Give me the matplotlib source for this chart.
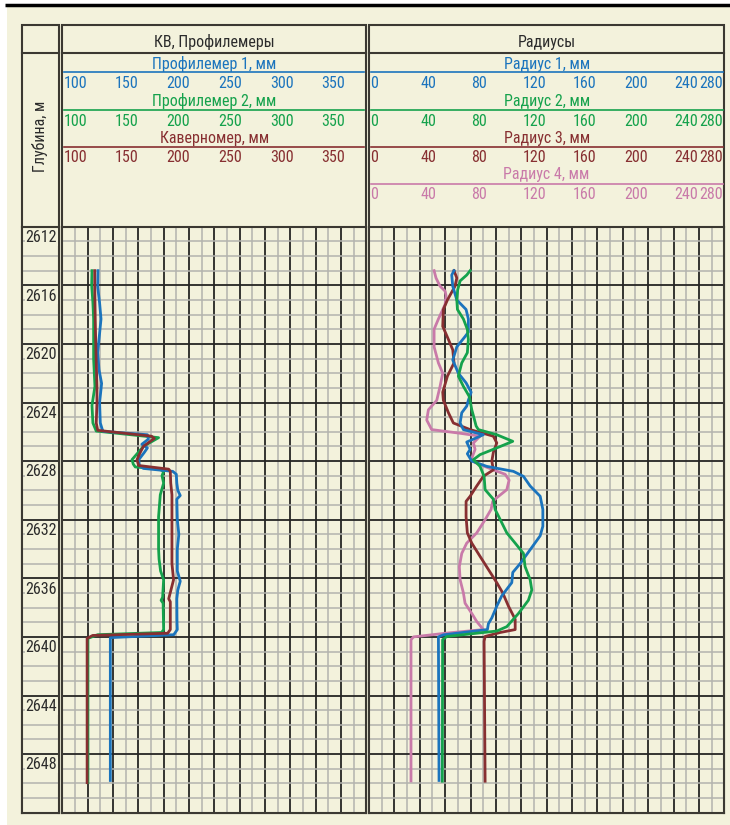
import matplotlib
matplotlib.use("Agg")
import matplotlib.pyplot as plt
from matplotlib import font_manager
from matplotlib.patches import Rectangle

# --- fonts: look for a narrow sans like the original, else plain Liberation Sans ---
narrow = None
for key in ("liberationsansnarrow-regular", "robotocondensed-regular", "opensans_condensed-regular",
            "opensanscondensed-regular", "dejavusanscondensed.ttf"):
    for f in font_manager.fontManager.ttflist:
        if key in f.fname.lower().replace(" ", ""):
            narrow = f.fname
            break
    if narrow:
        break

if narrow and "liberation" in narrow.lower():
    FP = dict(fontproperties=font_manager.FontProperties(fname=narrow, size=11.4))
elif narrow and "roboto" in narrow.lower():
    FP = dict(fontproperties=font_manager.FontProperties(fname=narrow, size=11.5))
else:
    plt.rcParams["font.family"] = ["Liberation Sans", "DejaVu Sans"]
    FP = dict(fontsize=10.2)

# --- data: track 1 (mm), depths in m ---
prof1_depth = [2615.0, 2616.1, 2617.2, 2618.3, 2619.5, 2620.6, 2621.75, 2622.7, 2624.0, 2625.4,
               2625.85, 2625.97, 2626.2, 2626.5, 2626.85, 2627.1, 2627.4, 2627.9, 2628.3, 2628.5,
               2628.7, 2628.9, 2629.5, 2630.0, 2630.35, 2630.6, 2632.0, 2633.0, 2634.0, 2635.5,
               2636.2, 2636.8, 2637.4, 2639.0, 2639.5, 2639.85, 2640.05, 2649.8]
prof1_mm = [135.2, 134.9, 136.8, 138.2, 136.5, 134.9, 136.2, 138.8, 136.8, 137.5,
            139.5, 140.5, 184.0, 185.0, 178.5, 184.0, 181.0, 175.5, 176.0, 180.0,
            209.0, 212.5, 213.0, 214.0, 216.4, 213.0, 213.5, 215.0, 213.5, 213.5,
            216.4, 214.0, 213.0, 213.2, 213.5, 210.0, 147.4, 147.4]

prof2_depth = [2615.0, 2616.0, 2617.2, 2618.3, 2621.0, 2622.9, 2624.2, 2625.4, 2625.95, 2626.4,
               2627.0, 2627.9, 2628.2, 2628.4, 2628.55, 2628.7, 2629.0, 2629.5, 2630.3, 2631.8,
               2634.0, 2634.7, 2635.5, 2636.1, 2637.3, 2637.5, 2637.7, 2639.5, 2639.7, 2639.85,
               2640.1, 2649.95]
prof2_mm = [129.3, 129.0, 130.2, 130.9, 130.9, 132.2, 129.3, 130.2, 133.5, 195.0,
            180.0, 168.8, 170.0, 172.0, 196.0, 200.0, 198.4, 200.0, 196.7, 195.0,
            195.0, 195.5, 197.0, 200.0, 199.0, 197.5, 199.5, 200.0, 198.0, 135.0,
            125.3, 125.3]

caliper_depth = [2615.0, 2616.0, 2618.3, 2620.6, 2622.9, 2624.0, 2625.4, 2625.9, 2626.3, 2626.45,
                 2627.0, 2627.4, 2627.9, 2628.3, 2628.55, 2628.7, 2629.5, 2630.3, 2633.0, 2635.0,
                 2636.1, 2637.4, 2637.6, 2639.5, 2639.75, 2639.9, 2640.1, 2649.95]
caliper_mm = [132.0, 132.0, 132.5, 133.2, 134.2, 134.2, 133.5, 135.0, 188.0, 190.8,
              180.0, 177.0, 173.7, 175.3, 205.0, 206.6, 207.0, 208.2, 208.2, 208.2,
              209.8, 205.0, 206.6, 206.6, 204.0, 130.0, 124.5, 124.5]

# --- data: track 2 radii (mm) ---
r1_depth = [2615.0, 2615.3, 2616.06, 2617.0, 2617.65, 2618.3, 2619.2, 2619.5, 2620.2, 2621.1,
            2622.0, 2622.66, 2623.3, 2623.85, 2624.25, 2624.7, 2625.4, 2625.85, 2626.2, 2626.5,
            2626.7, 2627.2, 2627.5, 2628.0, 2628.36, 2628.7, 2629.04, 2629.7, 2630.4, 2631.3,
            2632.45, 2633.1, 2634.05, 2635.0, 2635.6, 2636.3, 2637.2, 2637.9, 2638.7, 2639.1,
            2639.5, 2639.86, 2640.0, 2649.8]
r1_mm = [67.0, 65.2, 66.0, 69.2, 76.5, 78.3, 78.3, 75.7, 69.2, 66.0,
         70.4, 76.5, 80.5, 78.3, 77.0, 73.1, 71.8, 74.4, 90.1, 82.3,
         77.0, 79.7, 77.5, 81.0, 92.8, 113.8, 121.7, 127.0, 134.9, 137.0,
         137.0, 134.9, 127.0, 119.1, 113.3, 112.5, 104.6, 100.7, 96.8, 94.1,
         93.3, 58.6, 54.7, 55.2]

r2_depth = [2615.0, 2615.3, 2615.7, 2616.3, 2617.0, 2617.65, 2618.3, 2619.0, 2619.7, 2620.6,
            2621.3, 2622.2, 2622.9, 2623.6, 2624.5, 2624.9, 2625.6, 2625.85, 2626.2, 2626.65,
            2627.1, 2627.56, 2627.9, 2628.36, 2629.04, 2629.95, 2630.6, 2631.3, 2632.2, 2632.9,
            2633.6, 2634.3, 2635.2, 2636.1, 2636.8, 2637.5, 2638.4, 2639.3, 2639.6, 2639.97,
            2640.2, 2649.85]
r2_mm = [79.7, 77.0, 71.8, 69.9, 69.2, 69.7, 74.4, 77.5, 78.3, 77.5,
         73.1, 70.4, 74.4, 79.1, 81.0, 82.3, 84.4, 86.2, 100.7, 113.3,
         100.7, 87.5, 82.3, 87.5, 90.7, 91.5, 98.0, 99.4, 104.6, 108.6,
         115.2, 121.7, 123.0, 127.0, 128.3, 125.6, 117.8, 108.6, 100.7, 61.3,
         58.0, 57.8]

r3_depth = [2615.0, 2615.5, 2616.06, 2617.0, 2617.65, 2618.8, 2619.7, 2620.4, 2621.3, 2622.2,
            2623.3, 2623.85, 2624.7, 2625.4, 2625.85, 2626.3, 2626.76, 2627.4, 2628.0, 2628.6,
            2629.04, 2629.7, 2630.4, 2630.75, 2631.8, 2632.9, 2633.6, 2634.5, 2635.4, 2636.3,
            2637.0, 2637.9, 2638.8, 2639.5, 2639.7, 2639.97, 2640.3, 2649.85]
r3_mm = [67.0, 69.2, 67.8, 61.8, 58.6, 58.1, 62.6, 66.0, 67.0, 61.8,
         58.1, 58.6, 62.6, 66.5, 79.7, 98.0, 100.7, 98.0, 96.8, 98.0,
         90.1, 84.9, 79.7, 76.5, 76.5, 77.5, 81.0, 87.5, 94.1, 100.7,
         105.4, 109.9, 115.2, 115.2, 103.3, 91.5, 90.7, 91.5]

r4_depth = [2615.0, 2615.5, 2616.06, 2616.4, 2616.7, 2617.3, 2618.3, 2619.0, 2620.2, 2621.3,
            2622.0, 2622.9, 2623.85, 2624.5, 2625.2, 2625.85, 2626.1, 2626.3, 2626.76, 2627.2,
            2627.8, 2628.1, 2628.6, 2628.9, 2629.3, 2629.95, 2630.5, 2630.75, 2631.3, 2632.0,
            2632.9, 2633.6, 2634.3, 2635.2, 2636.1, 2637.0, 2637.7, 2638.4, 2638.95, 2639.5,
            2639.74, 2640.0, 2640.2, 2649.83]
r4_mm = [51.3, 52.8, 56.0, 60.0, 60.7, 60.0, 54.7, 51.3, 51.3, 54.7,
         58.1, 56.0, 53.4, 46.8, 45.5, 49.4, 71.8, 87.5, 82.3, 83.6,
         81.0, 83.6, 98.0, 107.3, 110.4, 108.6, 100.7, 97.5, 96.2, 91.5,
         84.9, 77.0, 73.1, 71.2, 71.8, 74.4, 75.7, 81.0, 84.9, 90.1,
         61.3, 35.0, 33.1, 33.1]

track1_ticks = ["100", "150", "200", "250", "300", "350"]
track2_ticks = [0, 40, 80, 120, 160, 200, 240, 280]
depth_labels = list(range(2612, 2652, 4))

# --- colours ---
BG = "#F3F2DC"
FRAME = "#3b3932"
MAJ = "#262624"
MIN = "#b3b3ae"
BLUE = "#1b74bd"
GREEN = "#15a24c"
RED = "#872f31"
PINK = "#c97aa9"
TXT = "#2b2b2b"

# --- layout in pixels ---
W, H = 730, 825
DCOL = (22, 59.3)
TR1 = (62.3, 366.3)
TR2 = (369, 724.3)
TOP, TITLE_Y, GTOP, GBOT = 25, 53.3, 226.7, 812.7

fig = plt.figure(figsize=(W / 100, H / 100), dpi=100, facecolor="white")
bg = fig.add_axes([0, 0, 1, 1])
bg.set_xlim(0, W)
bg.set_ylim(H, 0)
bg.axis("off")
bg.add_patch(Rectangle((6.5, 7), W, H, fc=BG, ec="none"))
bg.plot([4.7, W], [5, 5], color="black", lw=2.5, solid_capstyle="butt")

for x0, x1 in (DCOL, TR1, TR2):
    bg.add_patch(Rectangle((x0, TOP), x1 - x0, GBOT - TOP, fill=False, ec=FRAME, lw=1.5))
    bg.plot([x0, x1], [TITLE_Y, TITLE_Y], color=FRAME, lw=1.5)

bg.text((TR1[0] + TR1[1]) / 2, 46.7, "КВ, Профилемеры", ha="center", va="baseline",
        color=TXT, **FP)
bg.text((TR2[0] + TR2[1]) / 2, 46.7, "Радиусы", ha="center", va="baseline", color=TXT, **FP)
bg.text(39.5, 136, "Глубина, м", rotation=90, ha="center", va="center", color=TXT, **FP)

name_base = [69.3, 106.0, 142.7, 179.3]
line_y = [72, 110, 147, 183.7]
tick_base = [88.3, 126.0, 162.3, 199.0]

track1_rows = [("Профилемер 1, мм", BLUE), ("Профилемер 2, мм", GREEN), ("Каверномер, мм", RED)]
for i, (name, c) in enumerate(track1_rows):
    bg.text((TR1[0] + TR1[1]) / 2, name_base[i], name, ha="center", va="baseline", color=c, **FP)
    bg.plot([64, 364], [line_y[i]] * 2, color=c, lw=1.2)
    for j, lab in enumerate(track1_ticks):
        bg.text(63.5 + j * 51.6, tick_base[i], lab, ha="left", va="baseline", color=c, **FP)

track2_rows = [("Радиус 1, мм", BLUE), ("Радиус 2, мм", GREEN), ("Радиус 3, мм", RED),
               ("Радиус 4, мм", PINK)]
scale2 = (TR2[1] - TR2[0]) / 280
for i, (name, c) in enumerate(track2_rows):
    bg.text((TR2[0] + TR2[1]) / 2, name_base[i], name, ha="center", va="baseline", color=c, **FP)
    bg.plot([371, 722.5], [line_y[i]] * 2, color=c, lw=1.2)
    for v in track2_ticks:
        if v == track2_ticks[-1]:
            bg.text(TR2[1] - 1.5, tick_base[i], str(v), ha="right", va="baseline", color=c, **FP)
        else:
            bg.text(TR2[0] + 1 + v * scale2, tick_base[i], str(v), ha="left", va="baseline",
                    color=c, **FP)


def grid_axes(x0, x1):
    ax = fig.add_axes([x0 / W, 1 - GBOT / H, (x1 - x0) / W, (GBOT - GTOP) / H])
    ax.set_facecolor(BG)
    ax.set_ylim(2652, 2612)
    ax.set_yticks(range(2612, 2653, 4))
    ax.set_yticks(range(2612, 2653, 1), minor=True)
    ax.tick_params(which="both", length=0, labelbottom=False, labelleft=False)
    for s in ax.spines.values():
        s.set_color(FRAME)
        s.set_linewidth(1.5)
    ax.set_axisbelow(True)
    return ax


# depth column
axd = grid_axes(*DCOL)
axd.set_xlim(0, 1)
axd.set_xticks([])
axd.grid(which="minor", axis="y", color=MIN, lw=1.1)
axd.grid(which="major", axis="y", color=MAJ, lw=1.3)
for d in depth_labels:
    axd.text(0.1, d + 1.04, str(d), ha="left", va="baseline", color=TXT,
             bbox=dict(fc=BG, ec="none", pad=0.6), **FP)

# track 1
ax1 = grid_axes(*TR1)
ax1.set_xlim(100, 400)
ax1.set_xticks(range(100, 401, 25))
ax1.set_xticks([100 + 12.5 * k for k in range(25)], minor=True)
ax1.grid(which="minor", color=MIN, lw=1.1)
ax1.grid(which="major", color=MAJ, lw=1.3)
ax1.plot(prof2_mm, prof2_depth, color=GREEN, lw=2, solid_joinstyle="round")
ax1.plot(prof1_mm, prof1_depth, color=BLUE, lw=2, solid_joinstyle="round")
ax1.plot(caliper_mm, caliper_depth, color=RED, lw=2, solid_joinstyle="round")

# track 2
ax2 = grid_axes(*TR2)
ax2.set_xlim(0, 280)
ax2.set_xticks(range(0, 281, 20))
ax2.set_xticks(range(0, 281, 10), minor=True)
ax2.grid(which="minor", color=MIN, lw=1.1)
ax2.grid(which="major", color=MAJ, lw=1.3)
ax2.plot(r4_mm, r4_depth, color=PINK, lw=2, solid_joinstyle="round")
ax2.plot(r3_mm, r3_depth, color=RED, lw=2, solid_joinstyle="round")
ax2.plot(r1_mm, r1_depth, color=BLUE, lw=2, solid_joinstyle="round")
ax2.plot(r2_mm, r2_depth, color=GREEN, lw=2, solid_joinstyle="round")

fig.savefig("out.png", dpi=100, facecolor=fig.get_facecolor())
